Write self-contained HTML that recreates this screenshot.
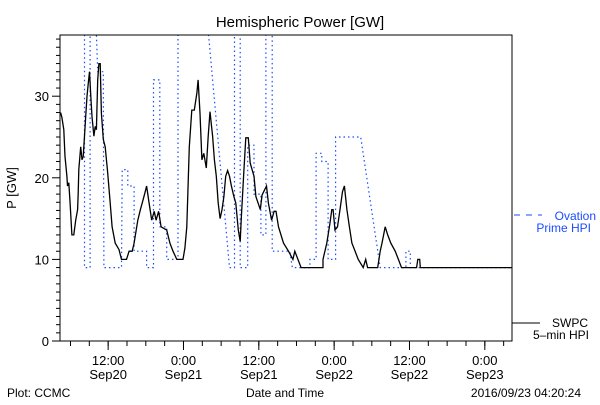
<!DOCTYPE html>
<html><head><meta charset="utf-8"><style>
body{margin:0;background:#fff;}
svg text{font-family:"Liberation Sans",sans-serif;}
</style></head><body>
<svg id="c" width="600" height="400" xmlns="http://www.w3.org/2000/svg">
<text x="300" y="27" font-size="15" text-anchor="middle">Hemispheric Power [GW]</text>
<text x="16" y="188" font-size="13" text-anchor="middle" transform="rotate(-90 16 188)">P [GW]</text>
<text x="7" y="397" font-size="12">Plot: CCMC</text>
<text x="285" y="397" font-size="12" text-anchor="middle">Date and Time</text>
<text x="581" y="397" font-size="12" text-anchor="end">2016/09/23 04:20:24</text>
<g>
<line x1="514" y1="215" x2="542" y2="215" stroke="#1a4cff" stroke-width="1" stroke-dasharray="6,6"/>
<text x="596" y="220" font-size="12" fill="#1a4cff" text-anchor="end">Ovation</text>
<text x="591" y="232" font-size="12" fill="#1a4cff" text-anchor="end">Prime HPI</text>
</g>
<g>
<line x1="512" y1="323" x2="540" y2="323" stroke="#000" stroke-width="1"/>
<text x="588" y="327" font-size="12" text-anchor="end">SWPC</text>
<text x="589" y="339" font-size="12" text-anchor="end">5–min HPI</text>
</g>
</svg>
<script>
const yTicks=[0,10,20,30];
const xTickLabels=[["12:00","Sep20"],["0:00","Sep21"],["12:00","Sep21"],["0:00","Sep22"],["12:00","Sep22"],["0:00","Sep23"]];
const xTickHours=[7.67,19.67,31.67,43.67,55.67,67.67];
const swpcHours=[0.1,0.3,0.6,0.8,1.1,1.2,1.4,1.6,1.9,2.2,2.5,2.8,2.9,3.0,3.3,3.5,3.7,3.9,4.1,4.3,4.5,4.7,4.9,5.1,5.4,5.6,5.8,6.0,6.2,6.4,6.6,6.9,7.2,7.6,8.0,8.3,8.8,9.4,9.8,10.6,11.0,11.5,11.8,12.4,12.8,13.1,13.5,13.8,14.2,14.6,15.0,15.3,15.7,16.1,17.0,17.5,18.0,18.6,19.6,19.9,20.2,20.6,21.0,21.4,21.8,22.0,22.3,22.6,22.9,23.3,23.6,23.9,24.3,24.6,24.9,25.2,25.5,25.8,26.1,26.4,26.7,27.0,27.3,27.7,28.0,28.4,28.7,28.9,29.3,29.6,30.0,30.3,30.9,31.2,31.9,32.2,32.9,33.2,33.7,34.1,34.4,34.8,35.6,36.4,37.1,37.4,38.4,41.9,41.9,42.5,43.0,43.3,43.5,43.8,44.2,44.6,45.0,45.3,45.7,46.1,46.5,47.0,47.5,48.3,48.7,49.0,50.6,51.0,51.3,51.8,52.2,52.7,53.4,53.9,54.4,56.8,57.0,57.3,57.4,72];
const swpcValues=[28,27.4,25.9,22.6,20.2,19,19.4,17.1,13,13,14.8,16.1,18.1,21,23.8,22.2,22.6,25.1,27.5,30,31.6,33,30,27.5,25.1,26.3,25.9,32,34,34,27.9,24.7,23.8,20.6,16.9,14,12,11.2,10,10,11,11,12,14.8,16.1,16.9,18.1,19,16.9,14.8,15.9,14.8,15.9,14,13.6,12,11,10,10,11.4,14,23.8,28.3,28.3,30.4,32,27.9,22.2,23,21.2,25.1,28.1,25.1,22.2,20.2,16.9,15,16.1,17.7,20.2,20.9,20.2,19,17.7,16.9,13.6,12.2,15.3,20.9,24.9,24.9,21.8,20.2,17.7,16.1,17.9,19,16.9,14.8,15.9,15.9,14,12,11,10,11,9,9,10,12,14.4,16.1,16.1,13.6,14,16.1,18.3,19,16.1,14,12,11,10,9,10,9,9,11,12,14,13,12,11,10,9,9,10,10,9,9];
const ovHours=[0,3.9,3.9,4.8,4.8,5.8,6.0,6.9,7.0,9.8,9.9,10.8,10.8,11.8,11.8,13.8,13.8,14.9,14.9,15.9,15.9,17.0,17.0,18.8,18.8,23.6,27.0,27.8,27.8,28.7,28.7,29.9,29.9,30.9,30.9,32.0,32.0,32.8,32.8,33.8,33.8,36.6,37.0,39.8,39.8,40.8,40.8,41.7,41.7,42.7,42.7,43.9,43.9,47.9,51.0,55.1,55.1,55.8,55.8,72];
const ovValues=[45,45,9,9,45,37.6,33,33,9,9,21,21,19,19,11,11,9,9,32,32,14,14,10,10,45,38,9,9,45,45,9,9,24,24,18,18,13,13,45,45,11,11,9,9,10,10,23,23,22,22,10,10,25,25,9,9,11,11,9,9];

const L=60,R=512,T=35,B=341,YMAX=37.5,HMAX=72;
const xs=h=>L+h*(R-L)/HMAX;
const ys=v=>B-v*(B-T)/YMAX;
const svg=document.getElementById('c');
const NS='http://www.w3.org/2000/svg';
function mk(tag,attrs){const e=document.createElementNS(NS,tag);for(const k in attrs)e.setAttribute(k,attrs[k]);svg.appendChild(e);return e;}

const defs=document.createElementNS(NS,'defs');
defs.innerHTML='<clipPath id="pc"><rect x="'+L+'" y="'+T+'" width="'+(R-L)+'" height="'+(B-T)+'"/></clipPath>';
svg.appendChild(defs);

const ovPts=ovHours.map((h,i)=>xs(h).toFixed(1)+','+ys(ovValues[i]).toFixed(1)).join(' ');
const ov=mk('polyline',{points:ovPts,fill:'none',stroke:'#1a4cff','stroke-width':1.2,'stroke-dasharray':'1.5,3','clip-path':'url(#pc)'});



const swPts=swpcHours.map((h,i)=>xs(h).toFixed(1)+','+ys(swpcValues[i]).toFixed(1)).join(' ');
const sw=mk('polyline',{points:swPts,fill:'none',stroke:'#000','stroke-width':1.3,'clip-path':'url(#pc)'});



const fr=mk('rect',{x:L,y:T,width:R-L,height:B-T,fill:'none',stroke:'#000','stroke-width':1});



for(let v=0;v<=37;v++){
  const major=v%10===0;
  const t=mk('line',{x1:L-(major?8:4),x2:L,y1:ys(v),y2:ys(v),stroke:'#000','stroke-width':1});
  
  
}
yTicks.forEach(v=>{
  const t=mk('text',{x:L-11,y:ys(v)+5,'font-size':13,'text-anchor':'end'});
  t.textContent=v;
  
  
});
for(let h=1.67;h<HMAX;h+=3){
  const t=mk('line',{x1:xs(h),x2:xs(h),y1:B,y2:B+5,stroke:'#000','stroke-width':1});
  
  
}
xTickHours.forEach((h,i)=>{
  const t=mk('line',{x1:xs(h),x2:xs(h),y1:B,y2:B+9,stroke:'#000','stroke-width':1});
  
  
  const a=mk('text',{x:xs(h),y:365,'font-size':13,'text-anchor':'middle'});
  a.textContent=xTickLabels[i][0];
  
  
  const b=mk('text',{x:xs(h),y:379,'font-size':13,'text-anchor':'middle'});
  b.textContent=xTickLabels[i][1];
  
  
});
</script>
</body></html>
